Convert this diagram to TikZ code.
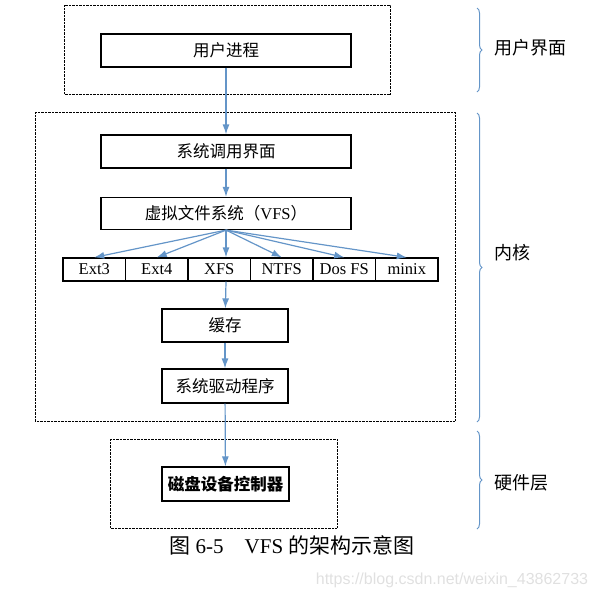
\documentclass[tikz,border=0pt]{standalone}
\usepackage{fontspec}
\setmainfont{Liberation Serif}
\newfontfamily\cjk{Noto Sans CJK SC}
\newfontfamily\wmfont{Liberation Sans}
\usetikzlibrary{arrows.meta,decorations.pathreplacing}
\definecolor{biru}{RGB}{100,149,200}

\begin{document}
\begin{tikzpicture}[x=1pt,y=-1pt,
      kotak/.style={draw,line width=1.2pt,inner sep=0pt,minimum width=250pt,
        minimum height=33pt,font=\fontsize{16.5}{19}\selectfont\cjk},
      kecil/.style={kotak,minimum width=126pt},
      sel/.style={draw,line width=1.2pt,inner sep=0pt,minimum width=62.5pt,
        minimum height=23pt,font=\fontsize{16.5}{19}\selectfont},
      bingkai/.style={draw,line width=0.7pt,dash pattern=on 0.7pt off 0.7pt},
      panah/.style={biru,line width=1.2pt,-{Latex[length=10pt,width=7pt]}},
      kurawal/.style={biru,line width=1pt,decorate,
        decoration={brace,amplitude=5pt}},
      lapis/.style={anchor=west,font=\fontsize{18}{21}\selectfont\cjk}]
    \useasboundingbox (0,0) rectangle (598,598);

    % Bingkai bertitik
    \draw[bingkai] (64,5) rectangle (390,94);
    \draw[bingkai] (35,112) rectangle (455,421);
    \draw[bingkai] (110,439) rectangle (337,528);

    % Lapisan atas
    \node[kotak] (proses) at (226,50.5) {用户进程};
    \node[kotak] (syscall) at (226,151.5) {系统调用界面};
    \node[kotak,minimum height=32pt] (vfs) at (226,213.5)
      {虚拟文件系统（\textrm{VFS}）};

    % Baris sistem berkas
    \node[sel] (ext3) at (94.25,269.5) {Ext3};
    \node[sel] (ext4) at (156.75,269.5) {Ext4};
    \node[sel] (xfs) at (219.25,269.5) {XFS};
    \node[sel] (ntfs) at (281.75,269.5) {NTFS};
    \node[sel] (dosfs) at (344.25,269.5) {Dos FS};
    \node[sel] (minix) at (406.75,269.5) {minix};

    % Lapisan bawah
    \node[kecil] (cache) at (225,325.5) {缓存};
    \node[kecil,minimum height=34pt] (driver) at (225,386) {系统驱动程序};
    \node[kecil,minimum width=127pt,minimum height=34pt,
      font=\fontsize{16.5}{19}\selectfont\cjk\bfseries] (disk) at (225.5,484)
      {磁盘设备控制器};

    % Panah
    \draw[panah] (proses) -- (syscall);
    \draw[panah] (syscall) -- (vfs);
    \draw[panah] (vfs.south) -- (ext3.north);
    \draw[panah] (vfs.south) -- (ext4.north);
    \draw[panah] (vfs.south) -- (vfs.south |- xfs.north);
    \draw[panah] (vfs.south) -- (ntfs.north);
    \draw[panah] (vfs.south) -- (dosfs.north);
    \draw[panah] (vfs.south) -- (minix.north);
    \draw[panah] (vfs.south |- xfs.south) -- (cache);
    \draw[panah] (cache) -- (driver);
    \draw[panah] (driver) -- (disk);

    % Kurawal dan nama lapisan
    \draw[kurawal] (477,8) -- (477,92);
    \draw[kurawal] (477,113) -- (477,422);
    \draw[kurawal] (477,431) -- (477,529);
    \node[lapis] (lapis1) at (491,48) {用户界面};
    \node[lapis] (lapis2) at (491,253) {内核};
    \node[lapis] (lapis3) at (491,483) {硬件层};

    % Keterangan gambar
    \node[font=\fontsize{21}{24}\selectfont] (judul) at (292,545)
      {{\cjk 图} 6-5\quad VFS {\cjk 的架构示意图}};
    \node[font=\fontsize{16}{19}\selectfont\wmfont,text=black!12] (tanda)
      at (452,580) {https://blog.csdn.net/weixin\_43862733};
  \end{tikzpicture}
\end{document}
